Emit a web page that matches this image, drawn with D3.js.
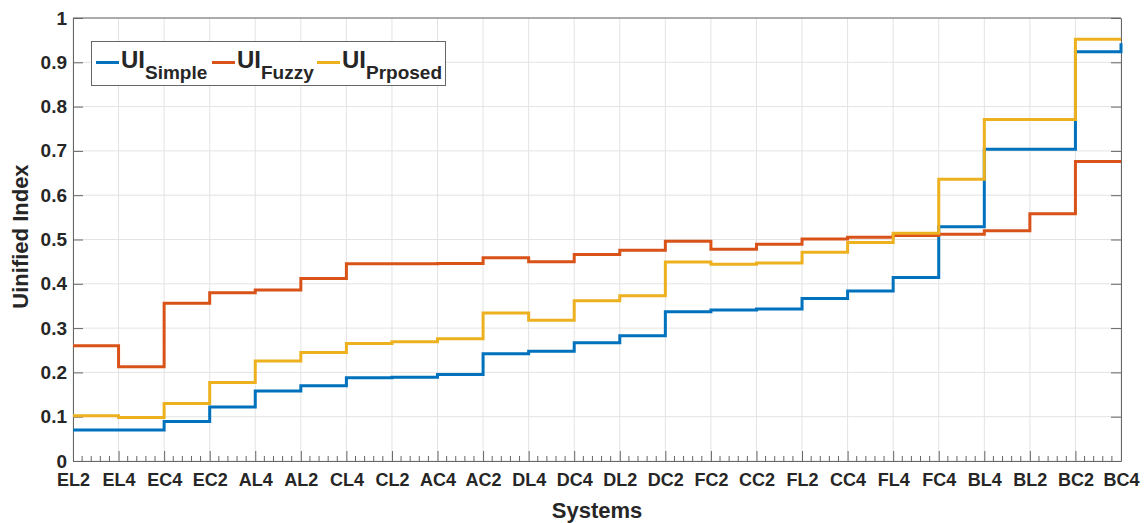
<!DOCTYPE html>
<html>
<head>
<meta charset="utf-8">
<script src="https://cdn.jsdelivr.net/npm/d3@7"></script>
<style>
  body { margin: 0; background: #fff; }
  svg { display: block; }
  text { font-family: "Liberation Sans", Arial, sans-serif; font-weight: bold; fill: #262626; }
</style>
</head>
<body>
<svg id="chart" width="1146" height="523"></svg>
<script>
const systems = ["EL2","EL4","EC4","EC2","AL4","AL2","CL4","CL2","AC4","AC2","DL4","DC4",
                 "DL2","DC2","FC2","CC2","FL2","CC4","FL4","FC4","BL4","BL2","BC2","BC4"];
const uiSimple = [0.070,0.070,0.089,0.122,0.158,0.170,0.188,0.189,0.195,0.242,0.248,0.267,
                  0.283,0.337,0.341,0.343,0.367,0.384,0.414,0.529,0.704,0.704,0.924,0.943];
const uiFuzzy  = [0.260,0.213,0.356,0.380,0.386,0.412,0.445,0.445,0.446,0.459,0.450,0.466,
                  0.476,0.496,0.478,0.489,0.501,0.505,0.509,0.512,0.520,0.558,0.676,0.676];
const uiProposed = [0.102,0.098,0.130,0.177,0.226,0.245,0.265,0.269,0.276,0.334,0.318,0.362,
                    0.373,0.449,0.444,0.447,0.471,0.493,0.514,0.636,0.771,0.771,0.952,0.952];
const yTicks = [0,0.1,0.2,0.3,0.4,0.5,0.6,0.7,0.8,0.9,1];
const yTickLabels = ["0","0.1","0.2","0.3","0.4","0.5","0.6","0.7","0.8","0.9","1"];
const seriesNames = ["Simple","Fuzzy","Prposed"];
const colors = ["#0072BD","#D95319","#EDB120"];

const svg = d3.select("#chart");
const m = {left: 73, right: 1146 - 1121, top: 18, bottom: 523 - 461};
const W = 1146 - m.left - m.right, H = 523 - m.top - m.bottom;
const g = svg.append("g").attr("transform", `translate(${m.left},${m.top})`);

const x = d3.scaleLinear().domain([0, systems.length - 1]).range([0, W]);
const y = d3.scaleLinear().domain([0, 1]).range([H, 0]);

// grid
g.append("g").selectAll("line").data(d3.range(systems.length)).join("line")
  .attr("x1", d => x(d)).attr("x2", d => x(d)).attr("y1", 0).attr("y2", H)
  .attr("stroke", "#e3e3e3").attr("stroke-width", 1);
g.append("g").selectAll("line").data(yTicks).join("line")
  .attr("x1", 0).attr("x2", W).attr("y1", d => y(d)).attr("y2", d => y(d))
  .attr("stroke", "#e3e3e3").attr("stroke-width", 1);

// minor ticks on bottom
const minor = [];
for (let i = 0; i < systems.length - 1; i++) for (let k = 1; k < 5; k++) minor.push(i + k / 5);
g.append("g").selectAll("line").data(minor).join("line")
  .attr("x1", d => x(d)).attr("x2", d => x(d)).attr("y1", H).attr("y2", H - 5)
  .attr("stroke", "#666").attr("stroke-width", 1);

// axes
const xAxis = d3.axisBottom(x).tickValues(d3.range(systems.length))
  .tickFormat(i => systems[i]).tickSizeInner(-10).tickSizeOuter(0).tickPadding(16);
const gx = g.append("g").attr("transform", `translate(0,${H})`).call(xAxis);
gx.selectAll("text").style("font-size", "18px").attr("dy", "0.5em");

const yAxis = d3.axisLeft(y).tickValues(yTicks).tickFormat((d, i) => yTickLabels[i])
  .tickSizeInner(-10).tickSizeOuter(0).tickPadding(6);
const gy = g.append("g").call(yAxis);
gy.selectAll("text").style("font-size", "19px");

const yAxisR = d3.axisRight(y).tickValues(yTicks).tickFormat("").tickSizeInner(-10).tickSizeOuter(0);
g.append("g").attr("transform", `translate(${W},0)`).call(yAxisR);

g.selectAll(".domain, .tick line").attr("stroke", "#666");
g.append("line").attr("x1", 0).attr("x2", W).attr("y1", 0).attr("y2", 0).attr("stroke", "#666");
g.selectAll(".tick text").attr("fill", "#262626").style("font-family", "'Liberation Sans', Arial, sans-serif").style("font-weight", "bold");

// lines
const line = d3.line().x((d, i) => x(i)).y(d => y(d)).curve(d3.curveStepAfter);
[uiSimple, uiFuzzy, uiProposed].forEach((s, k) => {
  g.append("path").datum(s).attr("d", line).attr("fill", "none")
    .attr("stroke", colors[k]).attr("stroke-width", 3).attr("stroke-linejoin", "miter");
});

// axis titles
svg.append("text").attr("x", m.left + W / 2).attr("y", 518).attr("text-anchor", "middle")
  .style("font-size", "22px").text("Systems");
svg.append("text").attr("transform", `translate(28,${m.top + H / 2 - 3}) rotate(-90)`)
  .attr("text-anchor", "middle").style("font-size", "22px").text("Uinified Index");

// legend
const lg = svg.append("g");
lg.append("rect").attr("x", 91.5).attr("y", 41.5).attr("width", 354).attr("height", 44)
  .attr("fill", "#fff").attr("stroke", "#666").attr("stroke-width", 1);
const entryX = [96, 212, 317];
seriesNames.forEach((nm, k) => {
  const ex = entryX[k];
  lg.append("line").attr("x1", ex).attr("x2", ex + 23).attr("y1", 62.5).attr("y2", 62.5)
    .attr("stroke", colors[k]).attr("stroke-width", 3);
  const t = lg.append("text").attr("x", ex + 25).attr("y", 68).style("font-size", "24px").attr("fill", "#000");
  t.append("tspan").text("UI");
  t.append("tspan").attr("dy", 10.5).style("font-size", "19px").text(nm);
});
</script>
</body>
</html>
